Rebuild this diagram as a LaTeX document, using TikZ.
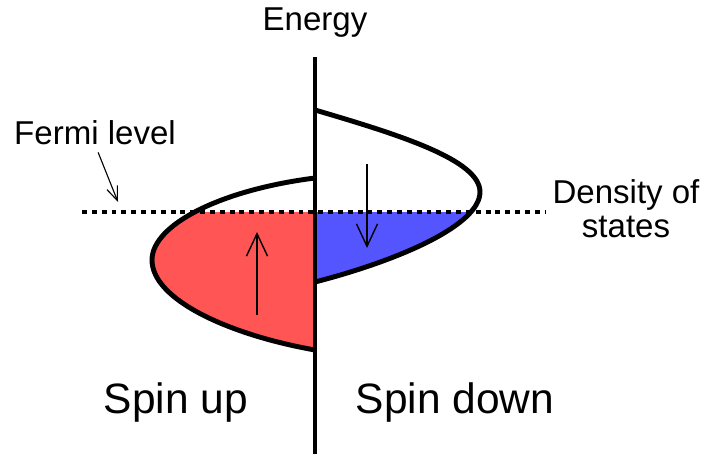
\documentclass[tikz,border=0pt]{standalone}
\usepackage{fontspec}
\setmainfont{Liberation Sans}
\usetikzlibrary{arrows.meta,positioning}
\definecolor{upred}{RGB}{255,85,85}
\definecolor{downblue}{RGB}{85,85,255}

\begin{document}
\begin{tikzpicture}[x=0.025cm, y=-0.025cm,
  curve/.style={line width=3.5pt, line join=round},
  axisline/.style={line width=3.5pt},
  fermiline/.style={line width=3.5pt, dash pattern=on 3.5pt off 3.5pt},
  spin/.style={-{Straight Barb[length=16pt,width=15pt]}, line width=1pt},
  pointer/.style={-{Straight Barb[length=10pt,width=8pt]}, line width=0.8pt},
  small/.style={font=\fontsize{23.5}{23.5}\selectfont, inner sep=0pt},
  big/.style={font=\fontsize{30.2}{30.2}\selectfont, inner sep=0pt},
]
\useasboundingbox (0,0) rectangle (706,454);

% Filled states below the Fermi level
\begin{scope}
  \clip (0,212) rectangle (706,454);
  \fill[upred] (315,178) .. controls (220,190) and (152,225) .. (152,260)
    .. controls (152,300) and (230,335) .. (315,350) -- cycle;
  \fill[downblue] (315,110) .. controls (400,135) and (480,160) .. (480,192)
    .. controls (480,225) and (400,260) .. (315,282) -- cycle;
\end{scope}

% Fermi level
\coordinate (flleft) at (82,212);
\coordinate (flright) at (545,212);
\draw[fermiline] (flleft) -- (flright);

% Density of states curves
\draw[curve] (315,178) .. controls (220,190) and (152,225) .. (152,260)
  .. controls (152,300) and (230,335) .. (315,350);
\draw[curve] (315,110) .. controls (400,135) and (480,160) .. (480,192)
  .. controls (480,225) and (400,260) .. (315,282);

% Energy axis
\coordinate (axtop) at (315,57);
\coordinate (axbot) at (315,454);
\draw[axisline] (axtop) -- (axbot);

% Spin arrows
\coordinate (upfrom) at (257,315);
\coordinate (upto) at (257,232);
\coordinate (downfrom) at (367,164);
\coordinate (downto) at (367,248);
\draw[spin] (upfrom) -- (upto);
\draw[spin] (downfrom) -- (downto);

% Labels
\node[small, anchor=base] (energy) at (315,30) {Energy};
\node[small, anchor=base] (fermi) at (95,144) {Fermi level};
\node[small, anchor=base, align=center] (dos) at (626,237) {Density of\\states};
\node[big, anchor=base] (spinup) at (176,413) {Spin up};
\node[big, anchor=base] (spindown) at (455,413) {Spin down};

\coordinate (fermitip) at (118,202);
\draw[pointer, shorten <=6pt] (fermi.south) -- (fermitip);

\end{tikzpicture}
\end{document}
